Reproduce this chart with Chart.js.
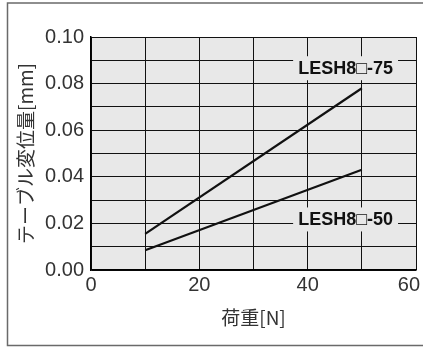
<!DOCTYPE html>
<html>
<head>
<meta charset="utf-8">
<script src="https://cdn.jsdelivr.net/npm/chart.js@4/dist/chart.umd.min.js"></script>
<style>
  html, body { margin: 0; padding: 0; background: #fff; }
  #wrap { width: 423px; height: 347px; }
</style>
</head>
<body>
<div id="wrap"><canvas id="c" width="423" height="347"></canvas></div>
<script>
// Load [N] at which each curve is specified
const loads = [10, 50];
// Table displacement [mm] for each model
const lesh75 = [0.0155, 0.078];
const lesh50 = [0.0085, 0.043];
const seriesNames = ['LESH8\u25A1-75', 'LESH8\u25A1-50'];
// Where each series name sits, in data units [load, displacement]
const nameAnchors = [[47, 0.0866], [47, 0.0217]];
// Axis ranges and steps
const xRange = [0, 60, 10];
const yRange = [0, 0.10, 0.01];
const xTitle = '荷重[N]';
const yTitle = 'テーブル変位量[mm]';

const PLOT_BG = '#e8e8e8';
const TICK_FONT = { family: "'Liberation Sans', Arial, sans-serif", size: 20 };
const TITLE_FONT = { family: "'Noto Sans CJK JP', sans-serif", size: 19 };

const toPoints = (xs, ys) => xs.map((x, i) => ({ x, y: ys[i] }));

const framePlugin = {
  id: 'frame',
  beforeDraw(chart) {
    const { ctx, chartArea: a, width, height } = chart;
    ctx.save();
    ctx.fillStyle = '#fff';
    ctx.fillRect(0, 0, width, height);
    // outer frame (left, top, bottom)
    ctx.strokeStyle = '#6a6a6a';
    ctx.lineWidth = 1.5;
    ctx.beginPath();
    ctx.moveTo(width, 3);
    ctx.lineTo(7.5, 3);
    ctx.lineTo(7.5, 345.5);
    ctx.lineTo(width, 345.5);
    ctx.stroke();
    // plot background
    ctx.fillStyle = PLOT_BG;
    ctx.fillRect(a.left, a.top, a.right - a.left, a.bottom - a.top);
    ctx.restore();
  },
  afterDatasetsDraw(chart) {
    const { ctx, scales: { x, y } } = chart;
    ctx.save();
    ctx.font = "bold 18px 'Liberation Sans', Arial, sans-serif";
    ctx.textAlign = 'center';
    ctx.textBaseline = 'middle';
    seriesNames.forEach((name, i) => {
      const px = x.getPixelForValue(nameAnchors[i][0]);
      const py = y.getPixelForValue(nameAnchors[i][1]);
      const w = ctx.measureText(name).width;
      ctx.fillStyle = PLOT_BG;
      ctx.fillRect(px - w / 2 - 5, py - 12, w + 10, 24);
      ctx.fillStyle = '#111';
      ctx.fillText(name, px, py + 1);
    });
    ctx.restore();
  },
  afterDraw(chart) {
    // last x tick label, kept inside the canvas
    const { ctx, scales: { x }, width } = chart;
    ctx.save();
    ctx.font = `${TICK_FONT.size}px ${TICK_FONT.family}`;
    ctx.fillStyle = '#333';
    ctx.textAlign = 'center';
    ctx.textBaseline = 'middle';
    const label = String(xRange[1]);
    const w = ctx.measureText(label).width;
    const px = Math.min(x.getPixelForValue(xRange[1]), width - w / 2 - 3);
    ctx.fillText(label, px, x.top + 3 + TICK_FONT.size * 1.2 / 2);
    ctx.restore();
  }
};

new Chart(document.getElementById('c'), {
  type: 'line',
  data: {
    datasets: [
      { label: seriesNames[0], data: toPoints(loads, lesh75) },
      { label: seriesNames[1], data: toPoints(loads, lesh50) }
    ]
  },
  options: {
    responsive: false,
    animation: false,
    layout: { padding: { left: 0, right: 7, top: 37, bottom: 0 } },
    elements: {
      line: { borderColor: '#111', borderWidth: 2.2, tension: 0 },
      point: { radius: 0 }
    },
    plugins: { legend: { display: false }, tooltip: { enabled: false } },
    scales: {
      x: {
        type: 'linear',
        min: xRange[0], max: xRange[1],
        afterFit(s) { s.height = 77; },
        grid: { color: '#111', lineWidth: 1, drawTicks: false },
        border: { color: '#000', width: 1.5 },
        ticks: {
          stepSize: xRange[2], padding: 3, color: '#333', font: TICK_FONT,
          maxRotation: 0, autoSkip: false,
          callback: v => (v % 20 === 0 && v !== xRange[1]) ? String(v) : ''
        },
        title: { display: true, text: xTitle, color: '#333', font: TITLE_FONT, padding: { top: 0, bottom: 18 } }
      },
      y: {
        type: 'linear',
        min: yRange[0], max: yRange[1],
        afterFit(s) { s.width = 91; },
        grid: { color: '#111', lineWidth: 1, drawTicks: false },
        border: { color: '#000', width: 1.5 },
        ticks: {
          stepSize: yRange[2], padding: 7, color: '#333', font: TICK_FONT,
          autoSkip: false,
          callback: v => (Math.round(v * 100) % 2 === 0) ? v.toFixed(2) : ''
        },
        title: { display: true, text: yTitle, color: '#333', font: TITLE_FONT, padding: { top: 14, bottom: 0 } }
      }
    }
  },
  plugins: [framePlugin]
});
</script>
</body>
</html>
